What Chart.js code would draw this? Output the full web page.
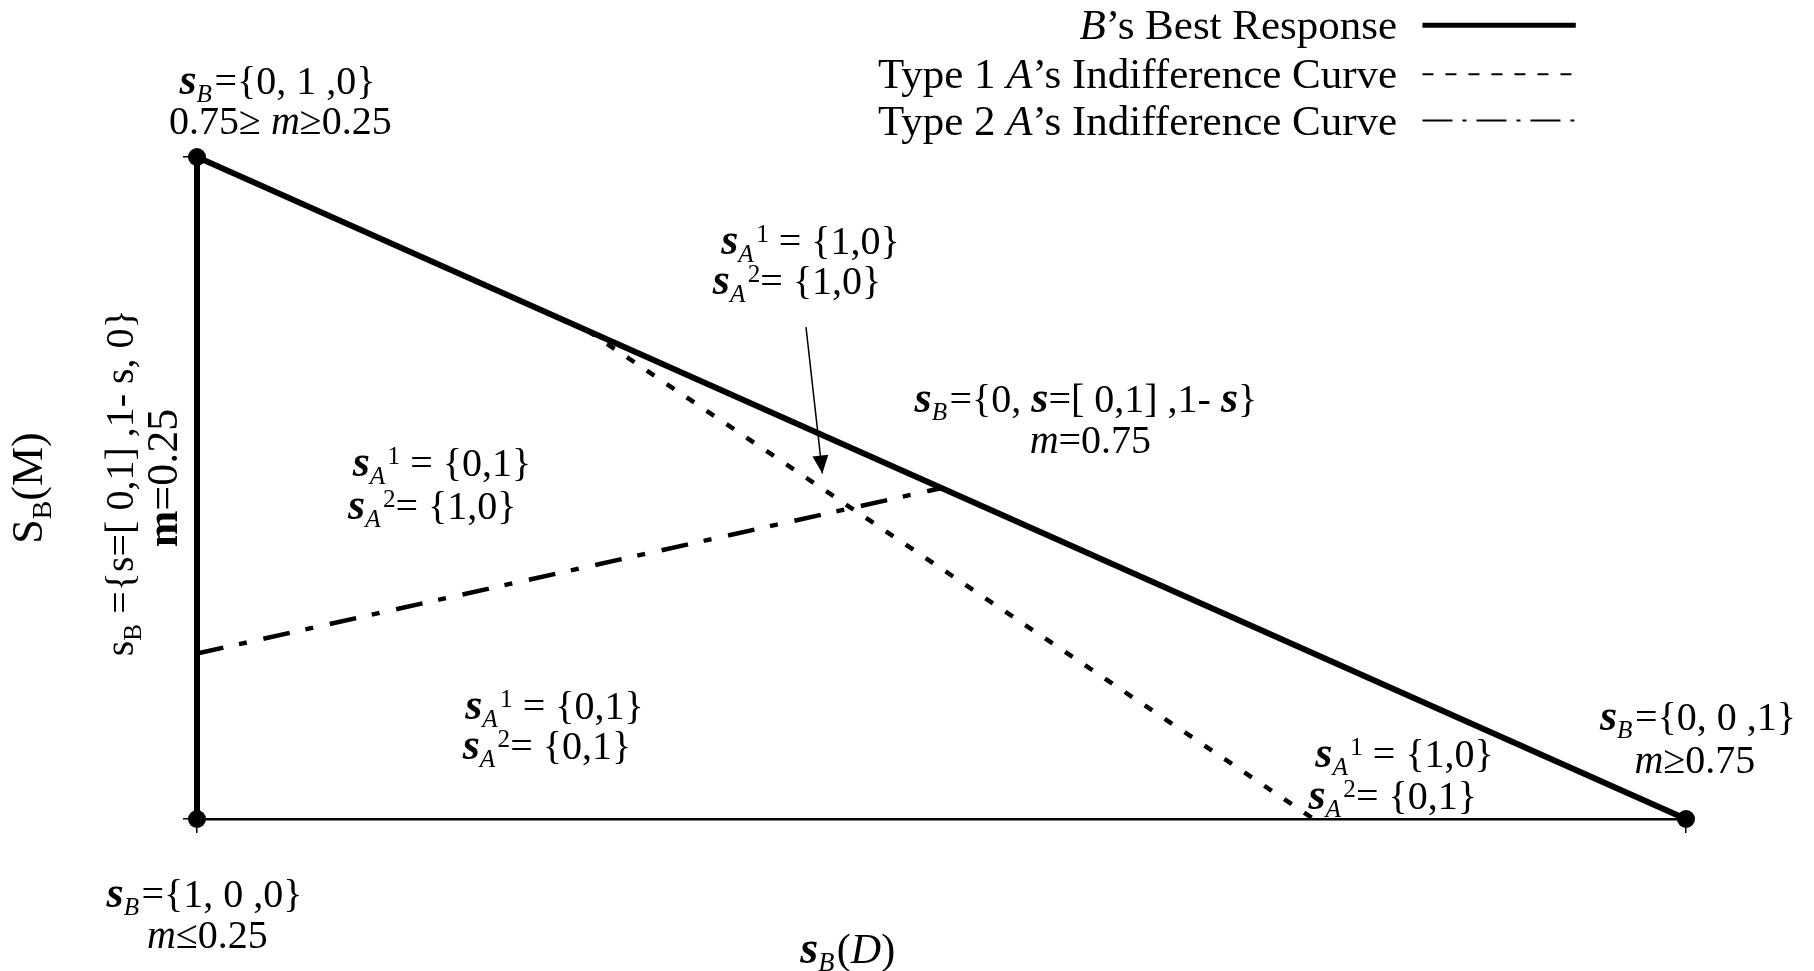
<!DOCTYPE html>
<html>
<head>
<meta charset="utf-8">
<script src="https://cdn.jsdelivr.net/npm/chart.js@4.4.1/dist/chart.umd.min.js"></script>
<style>
  body { margin: 0; background: #fff; }
  #grafico { display: block; }
</style>
</head>
<body>
<canvas id="grafico" width="1814" height="971"></canvas>
<script>
// vertices of the simplex: s_B(D) on x, s_B(M) on y
var bestX = [0, 0, 1];
var bestY = [0, 1, 0];
// indifference curves
var tipo1X = [0.262, 0.75];
var tipo1Y = [0.738, 0];
var tipo2X = [0, 0.5];
var tipo2Y = [0.25, 0.5];
// arrow pointing at the small region
var flechaX = [0.409, 0.420];
var flechaY = [0.743, 0.522];

var FONT = '"Liberation Serif", "Times New Roman", serif';

// rich text parts: [text, style, position]
var etiquetas = [
    { x: 0.054, y: 1.115, p: [['s', 'bi'], ['B', 'i', 'sub'], ['={0, 1 ,0}', 'r']] },
    { x: 0.056, y: 1.054, p: [['0.75\u2265 ', 'r'], ['m', 'i'], ['\u22650.25', 'r']] },
    { x: 0.412, y: 0.873, p: [['s', 'bi'], ['A', 'i', 'sub'], ['1', 'r', 'sup'], [' = {1,0}', 'r']] },
    { x: 0.403, y: 0.813, p: [['s', 'bi'], ['A', 'i', 'sub'], ['2', 'r', 'sup'], ['= {1,0}', 'r']] },
    { x: 0.597, y: 0.634, p: [['s', 'bi'], ['B', 'i', 'sub'], ['={0, ', 'r'], ['s', 'bi'], ['=[ 0,1] ,1- ', 'r'], ['s', 'bi'], ['}', 'r']] },
    { x: 0.600, y: 0.573, p: [['m', 'i'], ['=0.75', 'r']] },
    { x: 0.1645, y: 0.538, p: [['s', 'bi'], ['A', 'i', 'sub'], ['1', 'r', 'sup'], [' = {0,1}', 'r']] },
    { x: 0.158, y: 0.473, p: [['s', 'bi'], ['A', 'i', 'sub'], ['2', 'r', 'sup'], ['= {1,0}', 'r']] },
    { x: 0.240, y: 0.171, p: [['s', 'bi'], ['A', 'i', 'sub'], ['1', 'r', 'sup'], [' = {0,1}', 'r']] },
    { x: 0.235, y: 0.110, p: [['s', 'bi'], ['A', 'i', 'sub'], ['2', 'r', 'sup'], ['= {0,1}', 'r']] },
    { x: 0.811, y: 0.098, p: [['s', 'bi'], ['A', 'i', 'sub'], ['1', 'r', 'sup'], [' = {1,0}', 'r']] },
    { x: 0.803, y: 0.035, p: [['s', 'bi'], ['A', 'i', 'sub'], ['2', 'r', 'sup'], ['= {0,1}', 'r']] },
    { x: 1.008, y: 0.154, p: [['s', 'bi'], ['B', 'i', 'sub'], ['={0, 0 ,1}', 'r']] },
    { x: 1.006, y: 0.089, p: [['m', 'i'], ['\u22650.75', 'r']] },
    { x: 0.005, y: -0.113, p: [['s', 'bi'], ['B', 'i', 'sub'], ['={1, 0 ,0}', 'r']] },
    { x: 0.007, y: -0.175, p: [['m', 'i'], ['\u22640.25', 'r']] },
    { x: 0.437, y: -0.196, p: [['s', 'bi'], ['B', 'i', 'sub'], ['(', 'r'], ['D', 'i'], [')', 'r']], size: 42 },
    { x: -0.114, y: 0.5, rot: true, size: 44, p: [['S', 'r'], ['B', 'r', 'sub'], ['(M)', 'r']] },
    { x: -0.052, y: 0.508, rot: true, p: [['s', 'r'], ['B', 'r', 'sub'], [' ={s=[ 0,1] ,1- s, 0}', 'r']] },
    { x: -0.023, y: 0.515, rot: true, size: 44, p: [['m', 'b'], ['=0.25', 'r']] }
];

var leyenda = [
    { y: 1.199, p: [['B', 'i'], ['\u2019s Best Response', 'r']], dash: [], ancho: 5 },
    { y: 1.125, p: [['Type 1 ', 'r'], ['A', 'i'], ['\u2019s Indifference Curve', 'r']], dash: [11, 12], ancho: 2 },
    { y: 1.055, p: [['Type 2 ', 'r'], ['A', 'i'], ['\u2019s Indifference Curve', 'r']], dash: [30, 10, 4, 10], ancho: 2 }
];
var leyendaTextoX = 0.806;
var leyendaLinea = [0.823, 0.926];

function puntos(xs, ys) {
    var arr = [];
    for (var i = 0; i < xs.length; i++) {
        arr.push({ x: xs[i], y: ys[i] });
    }
    return arr;
}

function fuente(estilo, size) {
    var f = '';
    if (estilo === 'bi') f = 'italic bold ';
    else if (estilo === 'i') f = 'italic ';
    else if (estilo === 'b') f = 'bold ';
    return f + size + 'px ' + FONT;
}

function medirParte(ctx, parte, size) {
    var s = parte[2] ? size * 0.63 : (parte[0] === 's' && parte[1] === 'bi' ? size * 1.1 : size);
    ctx.font = fuente(parte[1], s);
    var w = ctx.measureText(parte[0]).width;
    // italic subscripts lean right, leave a little room
    if (parte[2] === 'sub' && parte[1] === 'i') w += size * 0.06;
    return { w: w, s: s };
}

// draws rich text; align 'center' or 'right', y is the visual middle
function textoRico(ctx, partes, x, y, size, align) {
    var total = 0, medidas = [];
    for (var i = 0; i < partes.length; i++) {
        var m = medirParte(ctx, partes[i], size);
        medidas.push(m);
        total += m.w;
    }
    var cx = align === 'right' ? x - total : x - total / 2;
    var base = y + size * 0.33;
    ctx.textBaseline = 'alphabetic';
    ctx.textAlign = 'left';
    for (var j = 0; j < partes.length; j++) {
        var p = partes[j];
        var dy = 0;
        if (p[2] === 'sub') dy = size * 0.2;
        if (p[2] === 'sup') dy = -size * 0.3;
        ctx.font = fuente(p[1], medidas[j].s);
        ctx.fillText(p[0], cx, base + dy);
        cx += medidas[j].w;
    }
}

var anotaciones = {
    id: 'anotaciones',
    afterDatasetsDraw: function (chart) {
        var ctx = chart.ctx;
        var xs = chart.scales.x, ys = chart.scales.y;
        ctx.save();
        ctx.fillStyle = '#000';
        ctx.strokeStyle = '#000';

        // arrow head
        var meta = chart.getDatasetMeta(3).data;
        var a = meta[0], b = meta[1];
        var ang = Math.atan2(b.y - a.y, b.x - a.x);
        ctx.save();
        ctx.translate(b.x, b.y);
        ctx.rotate(ang);
        ctx.beginPath();
        ctx.moveTo(0, 0);
        ctx.lineTo(-18, -8);
        ctx.lineTo(-18, 8);
        ctx.closePath();
        ctx.fill();
        ctx.restore();

        etiquetas.forEach(function (e) {
            var px = xs.getPixelForValue(e.x);
            var py = ys.getPixelForValue(e.y);
            var size = e.size || 40;
            if (e.rot) {
                ctx.save();
                ctx.translate(px, py);
                ctx.rotate(-Math.PI / 2);
                textoRico(ctx, e.p, 0, 0, size, 'center');
                ctx.restore();
            } else {
                textoRico(ctx, e.p, px, py, size, 'center');
            }
        });

        // legend: text on the left, line sample on the right
        var tx = xs.getPixelForValue(leyendaTextoX);
        var l0 = xs.getPixelForValue(leyendaLinea[0]);
        var l1 = xs.getPixelForValue(leyendaLinea[1]);
        leyenda.forEach(function (r) {
            var py = ys.getPixelForValue(r.y);
            textoRico(ctx, r.p, tx, py, 43, 'right');
            ctx.beginPath();
            ctx.lineWidth = r.ancho;
            ctx.setLineDash(r.dash);
            ctx.moveTo(l0, py);
            ctx.lineTo(l1, py);
            ctx.stroke();
        });
        ctx.restore();
    }
};

var GRAFICO = new Chart(document.getElementById('grafico'), {
    type: 'scatter',
    data: {
        datasets: [
            {
                label: 'Best Response',
                data: puntos(bestX, bestY),
                showLine: true,
                borderColor: '#000',
                backgroundColor: '#000',
                borderWidth: 6,
                pointRadius: 9,
                pointBorderWidth: 0,
                clip: false
            },
            {
                label: 'Type 1',
                data: puntos(tipo1X, tipo1Y),
                showLine: true,
                borderColor: '#000',
                borderWidth: 4.5,
                borderDash: [9, 15],
                pointRadius: 0,
                clip: false
            },
            {
                label: 'Type 2',
                data: puntos(tipo2X, tipo2Y),
                showLine: true,
                borderColor: '#000',
                borderWidth: 4.5,
                borderDash: [27, 16, 8, 17],
                pointRadius: 0,
                clip: false
            },
            {
                label: 'flecha',
                data: puntos(flechaX, flechaY),
                showLine: true,
                borderColor: '#000',
                borderWidth: 1.5,
                pointRadius: 0,
                clip: false
            }
        ]
    },
    options: {
        responsive: false,
        animation: false,
        layout: { padding: { left: 183, top: 157, right: 128, bottom: 138 } },
        plugins: {
            legend: { display: false },
            tooltip: { enabled: false }
        },
        scales: {
            x: {
                type: 'linear',
                min: 0,
                max: 1,
                ticks: { display: false, stepSize: 1 },
                grid: { drawOnChartArea: false, drawTicks: true, tickLength: 14, color: '#000', lineWidth: 1.5 },
                border: { display: true, color: '#000', width: 2.5 },
                afterFit: function (s) { s.height = 14; }
            },
            y: {
                type: 'linear',
                min: 0,
                max: 1,
                ticks: { display: false, stepSize: 1 },
                grid: { drawOnChartArea: false, drawTicks: true, tickLength: 14, color: '#000', lineWidth: 1.5 },
                border: { display: true, color: '#000', width: 2.5 },
                afterFit: function (s) { s.width = 14; }
            }
        }
    },
    plugins: [anotaciones]
});
</script>
</body>
</html>
